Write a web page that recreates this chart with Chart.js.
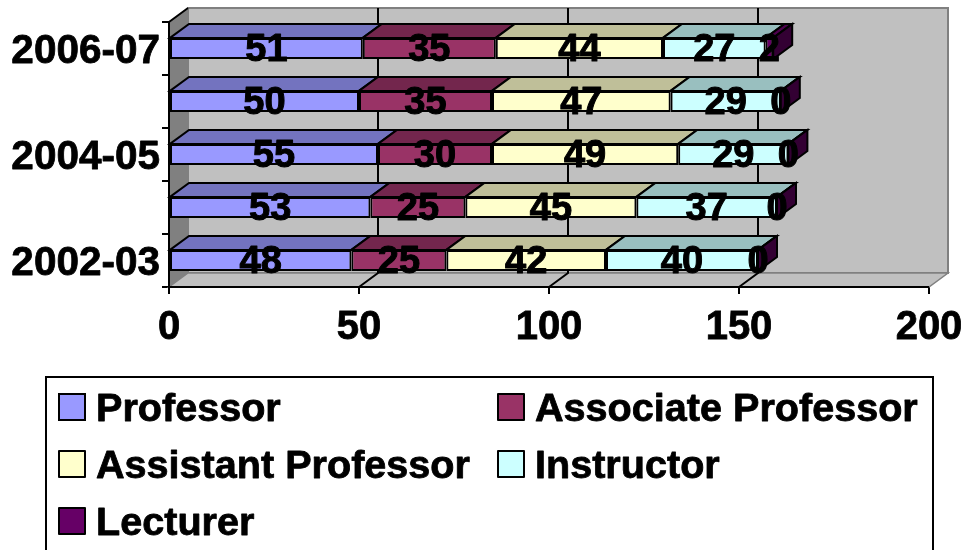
<!DOCTYPE html>
<html>
<head>
<meta charset="utf-8">
<style>
  html, body { margin: 0; padding: 0; background: #fff; }
  canvas { display: block; }
</style>
<script src="https://cdn.jsdelivr.net/npm/chart.js@4"></script>
</head>
<body>
<canvas id="chart0" width="967" height="550"></canvas>
<script>
  const years = ["2006-07", "2005-06", "2004-05", "2003-04", "2002-03"];
  const professor = [51, 50, 55, 53, 48];
  const associate = [35, 35, 30, 25, 25];
  const assistant = [44, 47, 49, 45, 42];
  const instructor = [27, 29, 29, 37, 40];
  const lecturer = [2, 0, 0, 0, 0];
  const xTicks = [0, 50, 100, 150, 200];

  const font = "'Liberation Sans', Arial, sans-serif";
  const depthX = 19, depthY = 14;

  function poly(ctx, pts, fill, stroke, lw) {
    ctx.beginPath();
    pts.forEach((p, i) => i ? ctx.lineTo(p[0], p[1]) : ctx.moveTo(p[0], p[1]));
    ctx.closePath();
    if (fill) { ctx.fillStyle = fill; ctx.fill(); }
    if (stroke) { ctx.strokeStyle = stroke; ctx.lineWidth = lw; ctx.stroke(); }
  }

  // heavier text, the reference glyphs are fatter than plain bold
  function heavyText(ctx, str, x, y, w) {
    ctx.lineWidth = w;
    ctx.strokeStyle = "#000";
    ctx.lineJoin = "round";
    ctx.strokeText(str, x, y);
    ctx.fillText(str, x, y);
  }

  // back wall, side wall and floor, plus the gridlines on the wall
  const walls = {
    id: "walls",
    beforeDatasetsDraw(chart) {
      const ctx = chart.ctx, x = chart.scales.x, y = chart.scales.y;
      const l = x.left, r = x.right, t = y.top, b = y.bottom;
      ctx.save();
      poly(ctx, [[l + depthX, t - depthY], [r + depthX, t - depthY], [r + depthX, b - depthY], [l + depthX, b - depthY]], "#c0c0c0", "#808080", 2);
      poly(ctx, [[l, b], [r, b], [r + depthX, b - depthY], [l + depthX, b - depthY]], "#c0c0c0", "#808080", 1.5);
      poly(ctx, [[l, t], [l + depthX, t - depthY], [l + depthX, b - depthY], [l, b]], "#808080", null, 0);
      ctx.strokeStyle = "#000";
      ctx.lineWidth = 2;
      ctx.beginPath();
      ctx.moveTo(l, t); ctx.lineTo(l + depthX, t - depthY);
      xTicks.slice(1, -1).forEach(v => {
        const px = x.getPixelForValue(v);
        ctx.moveTo(px, b);
        ctx.lineTo(px + depthX, b - depthY);
        ctx.lineTo(px + depthX, t - depthY);
      });
      ctx.stroke();
      ctx.beginPath();
      ctx.moveTo(l, t); ctx.lineTo(l, b); ctx.lineTo(r, b);
      ctx.stroke();

      // top and end faces of the bars
      chart.data.datasets.forEach((ds, di) => {
        chart.getDatasetMeta(di).data.forEach(bar => {
          const x0 = bar.base, x1 = bar.x, y0 = bar.y - bar.height / 2, y1 = bar.y + bar.height / 2;
          poly(ctx, [[x0, y0], [x0 + depthX, y0 - depthY], [x1 + depthX, y0 - depthY], [x1, y0]], ds.topColor, "#000", 2);
          if (di === chart.data.datasets.length - 1) {
            poly(ctx, [[x1, y0], [x1 + depthX, y0 - depthY], [x1 + depthX, y1 - depthY], [x1, y1]], ds.sideColor, "#000", 2);
          }
        });
      });
      ctx.restore();
    },
    afterDatasetsDraw(chart) {
      const ctx = chart.ctx, y = chart.scales.y;
      ctx.save();
      ctx.font = "bold 38px " + font;
      ctx.fillStyle = "#000";
      ctx.textAlign = "center";
      ctx.textBaseline = "middle";
      chart.data.datasets.forEach((ds, di) => {
        chart.getDatasetMeta(di).data.forEach((bar, i) => {
          heavyText(ctx, String(ds.data[i]), (bar.base + bar.x) / 2, bar.y + 2.5, 1);
        });
      });
      // every other year label, right against the ticks
      ctx.font = "bold 40.5px " + font;
      ctx.textAlign = "right";
      years.forEach((name, i) => {
        if (i % 2 === 0) heavyText(ctx, name, y.left + 160, y.getPixelForTick(i) + 3, 0.8);
      });
      ctx.restore();
    }
  };

  // boxed legend in two columns, cut off by the bottom of the picture
  const boxLegend = {
    id: "boxLegend",
    afterDraw(chart) {
      const ctx = chart.ctx;
      const colX = [59, 498], rowY = [407, 464, 521];
      ctx.save();
      ctx.strokeStyle = "#000";
      ctx.lineWidth = 2;
      ctx.strokeRect(46, 377, 887, 190);
      ctx.font = "bold 39.6px " + font;
      ctx.textBaseline = "middle";
      ctx.textAlign = "left";
      chart.data.datasets.forEach((ds, i) => {
        const px = colX[i % 2], py = rowY[Math.floor(i / 2)];
        ctx.lineWidth = 2;
        ctx.fillStyle = ds.backgroundColor;
        ctx.fillRect(px, py - 13, 26, 26);
        ctx.strokeRect(px, py - 13, 26, 26);
        ctx.fillStyle = "#000";
        heavyText(ctx, ds.label, px + 37, py + 3, 0.8);
      });
      ctx.restore();
    }
  };

  function series(label, data, color, topColor, sideColor) {
    return { label, data, backgroundColor: color, topColor, sideColor,
             borderColor: "#000", borderWidth: 2, borderSkipped: false,
             categoryPercentage: 1, barPercentage: 0.4 };
  }

  new Chart(document.getElementById("chart0").getContext("2d"), {
    type: "bar",
    data: {
      labels: years,
      datasets: [
        series("Professor", professor, "#9999ff", "#7373bf", "#4d4d80"),
        series("Associate Professor", associate, "#993366", "#73264d", "#4d1a33"),
        series("Assistant Professor", assistant, "#ffffcc", "#bfbf99", "#808066"),
        series("Instructor", instructor, "#ccffff", "#99bfbf", "#668080"),
        series("Lecturer", lecturer, "#660066", "#4d004d", "#330033")
      ]
    },
    options: {
      indexAxis: "y",
      responsive: false,
      animation: false,
      layout: { padding: { top: 22, right: 38, left: 0, bottom: 0 } },
      plugins: { legend: { display: false }, tooltip: { enabled: false } },
      scales: {
        x: {
          stacked: true,
          min: 0,
          max: 200,
          afterFit(s) { s.height = 263; s.paddingLeft = 0; s.paddingRight = 0; },
          afterBuildTicks(s) { s.ticks = xTicks.map(v => ({ value: v })); },
          grid: { drawOnChartArea: false, color: "#000", lineWidth: 2, tickLength: 7 },
          border: { color: "#000", width: 2 },
          ticks: { color: "#000", padding: 10, maxRotation: 0, textStrokeColor: "#000", textStrokeWidth: 0.8, font: { family: font, weight: "bold", size: 40 } }
        },
        y: {
          stacked: true,
          afterFit(s) { s.width = 169; s.paddingTop = 0; s.paddingBottom = 0; },
          grid: { drawOnChartArea: false, color: "#000", lineWidth: 2, tickLength: 7 },
          border: { color: "#000", width: 2 },
          ticks: { display: false, autoSkip: false }
        }
      }
    },
    plugins: [walls, boxLegend]
  });
</script>
</body>
</html>
